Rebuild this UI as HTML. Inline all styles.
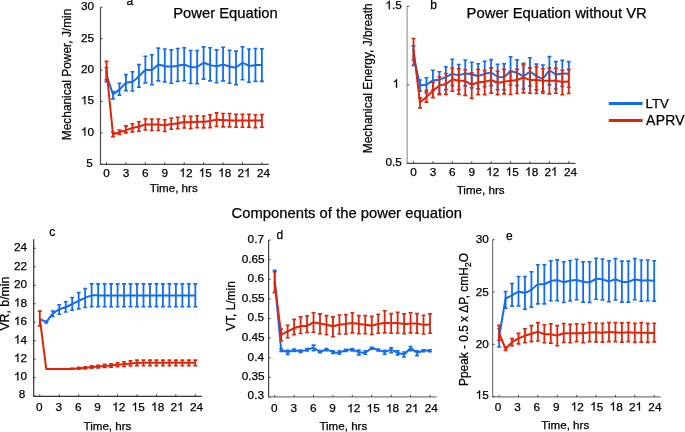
<!DOCTYPE html>
<html><head><meta charset="utf-8"><style>
html,body{margin:0;padding:0;background:#fff;}
body{width:685px;height:432px;overflow:hidden;}
svg{display:block;}
text{font-family:"Liberation Sans",sans-serif;fill:#000;stroke:#000;stroke-width:0.25px;}
svg{will-change:transform;}

.t{font-size:11.8px;}
.g1{fill:#000;stroke:#000;stroke-width:0.25px;}
.ti{font-size:14.8px;}
.lt{font-size:12px;}
.at{font-size:11.6px;}
.ay{font-size:11.9px;}
.lg{font-size:13.2px;}
</style></head><body>
<div class="wrap"><svg width="685" height="432" viewBox="0 0 685 432">
<rect width="685" height="432" fill="#fff"/>
<path d="M100.5,7.2 V164.3" stroke="#4a4a4a" stroke-width="1.2" fill="none"/>
<path d="M99.9,164.3 H268.8" stroke="#4a4a4a" stroke-width="1.2" fill="none"/>
<path d="M106.5,164.3 v-2 M125.92,164.3 v-2 M145.35,164.3 v-2 M164.78,164.3 v-2 M184.2,164.3 v-2 M203.62,164.3 v-2 M223.05,164.3 v-2 M242.47,164.3 v-2 M261.9,164.3 v-2 M100.5,7.2 h2 M100.5,38.62 h2 M100.5,70.04 h2 M100.5,101.46 h2 M100.5,132.88 h2 M100.5,164.3 h2" stroke="#444" stroke-width="1" fill="none"/>
<text x="106.5" y="176.8" text-anchor="middle" class="t">0</text>
<text x="125.92" y="176.8" text-anchor="middle" class="t">3</text>
<text x="145.35" y="176.8" text-anchor="middle" class="t">6</text>
<text x="164.78" y="176.8" text-anchor="middle" class="t">9</text>
<path d="M183.74,176.8 L182.7,176.8 L182.7,170.19 C182.11,170.72 181.34,171.16 180.55,171.51 L180.55,170.52 C181.34,170.13 181.99,169.66 182.43,169.19 C182.78,168.8 182.97,168.54 183.07,168.35 L183.74,168.35 Z" class="g1"/><text x="185.9" y="176.8" class="t">2</text>
<path d="M203.16,176.8 L202.13,176.8 L202.13,170.19 C201.54,170.72 200.77,171.16 199.98,171.51 L199.98,170.52 C200.77,170.13 201.42,169.66 201.85,169.19 C202.21,168.8 202.4,168.54 202.49,168.35 L203.16,168.35 Z" class="g1"/><text x="205.32" y="176.8" class="t">5</text>
<path d="M222.59,176.8 L221.55,176.8 L221.55,170.19 C220.96,170.72 220.19,171.16 219.4,171.51 L219.4,170.52 C220.19,170.13 220.84,169.66 221.28,169.19 C221.63,168.8 221.82,168.54 221.92,168.35 L222.59,168.35 Z" class="g1"/><text x="224.75" y="176.8" class="t">8</text>
<text x="237.61" y="176.8" class="t">2</text><path d="M248.58,176.8 L247.54,176.8 L247.54,170.19 C246.95,170.72 246.18,171.16 245.39,171.51 L245.39,170.52 C246.18,170.13 246.83,169.66 247.27,169.19 C247.62,168.8 247.81,168.54 247.9,168.35 L248.58,168.35 Z" class="g1"/>
<text x="263.6" y="176.8" text-anchor="middle" class="t">24</text>
<text x="94.1" y="10.1" text-anchor="end" class="t">30</text>
<text x="94.1" y="41.52" text-anchor="end" class="t">25</text>
<text x="94.1" y="72.94" text-anchor="end" class="t">20</text>
<path d="M85.38,104.36 L84.34,104.36 L84.34,97.75 C83.75,98.28 82.98,98.72 82.19,99.07 L82.19,98.08 C82.98,97.69 83.63,97.22 84.07,96.75 C84.42,96.36 84.61,96.1 84.7,95.91 L85.38,95.91 Z" class="g1"/><text x="87.54" y="104.36" class="t">5</text>
<path d="M85.38,135.78 L84.34,135.78 L84.34,129.17 C83.75,129.7 82.98,130.14 82.19,130.49 L82.19,129.5 C82.98,129.11 83.63,128.64 84.07,128.17 C84.42,127.78 84.61,127.52 84.7,127.33 L85.38,127.33 Z" class="g1"/><text x="87.54" y="135.78" class="t">0</text>
<text x="92.7" y="166.6" text-anchor="end" class="t">5</text>
<path d="M106.5,67.8 V82 M112.97,91.5 V98.9 M119.45,83.3 V95.1 M125.92,74.6 V90.6 M132.4,71.8 V91 M138.88,64.6 V87.2 M145.35,56.3 V82.9 M151.82,54.7 V84.8 M158.3,48.1 V80.9 M164.78,49 V82 M171.25,49.9 V83.2 M177.72,48.5 V81.4 M184.2,47.8 V80.8 M190.68,50.5 V83.5 M197.15,50.5 V83.7 M203.62,46.9 V79.1 M210.1,47.8 V80.9 M216.57,49.9 V82.7 M223.05,47.3 V80.9 M229.52,50.2 V83.2 M236,51.1 V84.6 M242.47,46.7 V79.7 M248.95,49 V82.3 M255.42,48.5 V81.4 M261.9,48.7 V81.4" stroke="#126cf2" stroke-width="1.8" fill="none"/>
<path d="M104.55,67.8 h3.9 M104.55,82 h3.9 M111.02,91.5 h3.9 M111.02,98.9 h3.9 M117.5,83.3 h3.9 M117.5,95.1 h3.9 M123.97,74.6 h3.9 M123.97,90.6 h3.9 M130.45,71.8 h3.9 M130.45,91 h3.9 M136.93,64.6 h3.9 M136.93,87.2 h3.9 M143.4,56.3 h3.9 M143.4,82.9 h3.9 M149.88,54.7 h3.9 M149.88,84.8 h3.9 M156.35,48.1 h3.9 M156.35,80.9 h3.9 M162.83,49 h3.9 M162.83,82 h3.9 M169.3,49.9 h3.9 M169.3,83.2 h3.9 M175.78,48.5 h3.9 M175.78,81.4 h3.9 M182.25,47.8 h3.9 M182.25,80.8 h3.9 M188.73,50.5 h3.9 M188.73,83.5 h3.9 M195.2,50.5 h3.9 M195.2,83.7 h3.9 M201.68,46.9 h3.9 M201.68,79.1 h3.9 M208.15,47.8 h3.9 M208.15,80.9 h3.9 M214.62,49.9 h3.9 M214.62,82.7 h3.9 M221.1,47.3 h3.9 M221.1,80.9 h3.9 M227.57,50.2 h3.9 M227.57,83.2 h3.9 M234.05,51.1 h3.9 M234.05,84.6 h3.9 M240.53,46.7 h3.9 M240.53,79.7 h3.9 M247,49 h3.9 M247,82.3 h3.9 M253.47,48.5 h3.9 M253.47,81.4 h3.9 M259.95,48.7 h3.9 M259.95,81.4 h3.9" stroke="#126cf2" stroke-width="1.6" fill="none"/>
<path d="M106.5,75 L112.97,94.4 C113.84,93.76 117.72,91.12 119.45,89.6 C121.18,88.08 124.2,84.05 125.92,83 C127.65,81.95 130.67,82.58 132.4,81.7 C134.13,80.82 137.15,77.95 138.88,76.4 C140.6,74.85 143.62,70.97 145.35,70.1 C147.08,69.23 150.1,70.61 151.82,69.9 C153.55,69.19 156.57,65.29 158.3,64.8 C160.03,64.31 163.05,65.97 164.78,66.2 C166.5,66.43 169.52,66.57 171.25,66.5 C172.98,66.43 176,65.93 177.72,65.7 C179.45,65.47 182.47,64.64 184.2,64.8 C185.93,64.96 188.95,66.62 190.68,66.9 C192.4,67.18 195.42,67.42 197.15,66.9 C198.88,66.38 201.9,63.24 203.62,63 C205.35,62.76 208.37,64.67 210.1,65.1 C211.83,65.53 214.85,66.24 216.57,66.2 C218.3,66.16 221.32,64.76 223.05,64.8 C224.78,64.84 227.8,66.15 229.52,66.5 C231.25,66.85 234.27,67.87 236,67.4 C237.73,66.93 240.75,63.23 242.47,63 C244.2,62.77 247.22,65.42 248.95,65.7 C250.68,65.98 253.7,65.18 255.42,65.1 C257.15,65.02 261.04,65.1 261.9,65.1" stroke="#126cf2" stroke-width="2.0" fill="none" stroke-linejoin="round"/>
<path d="M106.5,61.4 V79.9 M112.97,132.2 V136.8 M119.45,130 V134.4 M125.92,125.9 V132.9 M132.4,123.7 V131.9 M138.88,121.7 V131.3 M145.35,118.7 V130 M151.82,119 V130.5 M158.3,119 V130.5 M164.78,119.7 V131.5 M171.25,118 V129.2 M177.72,117.3 V128.6 M184.2,116 V128 M190.68,116.4 V128.6 M197.15,115.8 V127.6 M203.62,116 V127.9 M210.1,114.7 V127.6 M216.57,112.9 V126.5 M223.05,113.5 V126.9 M229.52,113.5 V126.9 M236,114.2 V127.3 M242.47,114.2 V127.3 M248.95,114.2 V127.3 M255.42,114.7 V127.6 M261.9,114.5 V127.3" stroke="#e0240a" stroke-width="1.8" fill="none"/>
<path d="M104.55,61.4 h3.9 M104.55,79.9 h3.9 M111.02,132.2 h3.9 M111.02,136.8 h3.9 M117.5,130 h3.9 M117.5,134.4 h3.9 M123.97,125.9 h3.9 M123.97,132.9 h3.9 M130.45,123.7 h3.9 M130.45,131.9 h3.9 M136.93,121.7 h3.9 M136.93,131.3 h3.9 M143.4,118.7 h3.9 M143.4,130 h3.9 M149.88,119 h3.9 M149.88,130.5 h3.9 M156.35,119 h3.9 M156.35,130.5 h3.9 M162.83,119.7 h3.9 M162.83,131.5 h3.9 M169.3,118 h3.9 M169.3,129.2 h3.9 M175.78,117.3 h3.9 M175.78,128.6 h3.9 M182.25,116 h3.9 M182.25,128 h3.9 M188.73,116.4 h3.9 M188.73,128.6 h3.9 M195.2,115.8 h3.9 M195.2,127.6 h3.9 M201.68,116 h3.9 M201.68,127.9 h3.9 M208.15,114.7 h3.9 M208.15,127.6 h3.9 M214.62,112.9 h3.9 M214.62,126.5 h3.9 M221.1,113.5 h3.9 M221.1,126.9 h3.9 M227.57,113.5 h3.9 M227.57,126.9 h3.9 M234.05,114.2 h3.9 M234.05,127.3 h3.9 M240.53,114.2 h3.9 M240.53,127.3 h3.9 M247,114.2 h3.9 M247,127.3 h3.9 M253.47,114.7 h3.9 M253.47,127.6 h3.9 M259.95,114.5 h3.9 M259.95,127.3 h3.9" stroke="#e0240a" stroke-width="1.6" fill="none"/>
<path d="M106.5,70 L112.97,134.4 C113.84,134.11 117.72,132.76 119.45,132.2 C121.18,131.64 124.2,130.76 125.92,130.2 C127.65,129.64 130.67,128.47 132.4,128 C134.13,127.53 137.15,127.15 138.88,126.7 C140.6,126.25 143.62,124.88 145.35,124.6 C147.08,124.32 150.1,124.6 151.82,124.6 C153.55,124.6 156.57,124.52 158.3,124.6 C160.03,124.68 163.05,125.29 164.78,125.2 C166.5,125.11 169.52,124.14 171.25,123.9 C172.98,123.66 176,123.65 177.72,123.4 C179.45,123.15 182.47,122.15 184.2,122 C185.93,121.85 188.95,122.34 190.68,122.3 C192.4,122.26 195.42,121.78 197.15,121.7 C198.88,121.62 201.9,121.79 203.62,121.7 C205.35,121.61 208.37,121.27 210.1,121 C211.83,120.73 214.85,119.82 216.57,119.7 C218.3,119.58 221.32,120.01 223.05,120.1 C224.78,120.19 227.8,120.33 229.52,120.4 C231.25,120.47 234.27,120.57 236,120.6 C237.73,120.63 240.75,120.6 242.47,120.6 C244.2,120.6 247.22,120.6 248.95,120.6 C250.68,120.6 253.7,120.6 255.42,120.6 C257.15,120.6 261.04,120.6 261.9,120.6" stroke="#e0240a" stroke-width="2.0" fill="none" stroke-linejoin="round"/>
<path d="M407.1,6.3 V163.3" stroke="#999" stroke-width="1.2" fill="none"/>
<path d="M406.5,163.3 H575.5" stroke="#4a4a4a" stroke-width="1.2" fill="none"/>
<path d="M413.5,163.3 v-2 M432.91,163.3 v-2 M452.32,163.3 v-2 M471.73,163.3 v-2 M491.14,163.3 v-2 M510.55,163.3 v-2 M529.96,163.3 v-2 M549.37,163.3 v-2 M568.78,163.3 v-2 M407.1,6.3 h2 M407.1,84.75 h2 M407.1,163.3 h2" stroke="#444" stroke-width="1" fill="none"/>
<text x="413.5" y="175.7" text-anchor="middle" class="t">0</text>
<text x="432.91" y="175.7" text-anchor="middle" class="t">3</text>
<text x="452.32" y="175.7" text-anchor="middle" class="t">6</text>
<text x="471.73" y="175.7" text-anchor="middle" class="t">9</text>
<path d="M490.68,175.7 L489.64,175.7 L489.64,169.09 C489.05,169.62 488.28,170.06 487.49,170.41 L487.49,169.42 C488.28,169.03 488.93,168.56 489.37,168.09 C489.72,167.7 489.91,167.44 490.01,167.25 L490.68,167.25 Z" class="g1"/><text x="492.84" y="175.7" class="t">2</text>
<path d="M510.09,175.7 L509.05,175.7 L509.05,169.09 C508.46,169.62 507.69,170.06 506.9,170.41 L506.9,169.42 C507.69,169.03 508.34,168.56 508.78,168.09 C509.13,167.7 509.32,167.44 509.42,167.25 L510.09,167.25 Z" class="g1"/><text x="512.25" y="175.7" class="t">5</text>
<path d="M529.5,175.7 L528.46,175.7 L528.46,169.09 C527.87,169.62 527.1,170.06 526.31,170.41 L526.31,169.42 C527.1,169.03 527.75,168.56 528.19,168.09 C528.54,167.7 528.73,167.44 528.83,167.25 L529.5,167.25 Z" class="g1"/><text x="531.66" y="175.7" class="t">8</text>
<text x="544.51" y="175.7" class="t">2</text><path d="M555.47,175.7 L554.43,175.7 L554.43,169.09 C553.84,169.62 553.08,170.06 552.29,170.41 L552.29,169.42 C553.08,169.03 553.73,168.56 554.16,168.09 C554.52,167.7 554.7,167.44 554.8,167.25 L555.47,167.25 Z" class="g1"/>
<text x="570.48" y="175.7" text-anchor="middle" class="t">24</text>
<path d="M389.8,9.2 L388.76,9.2 L388.76,2.59 C388.17,3.12 387.4,3.56 386.61,3.91 L386.61,2.92 C387.4,2.53 388.05,2.06 388.49,1.59 C388.84,1.2 389.03,0.94 389.13,0.75 L389.8,0.75 Z" class="g1"/><text x="391.96" y="9.2" class="t">.</text><text x="395.24" y="9.2" class="t">5</text>
<path d="M397.04,87.65 L396,87.65 L396,81.04 C395.41,81.57 394.64,82.01 393.85,82.36 L393.85,81.37 C394.64,80.98 395.29,80.51 395.73,80.04 C396.08,79.65 396.27,79.39 396.37,79.2 L397.04,79.2 Z" class="g1"/>
<text x="401.8" y="165.6" text-anchor="end" class="t">0.5</text>
<path d="M413.5,45.9 V65.4 M419.97,80 V91.1 M426.44,77.8 V92.6 M432.91,70.2 V90.2 M439.38,71.7 V93.9 M445.85,66.7 V89.6 M452.32,59.3 V85.6 M458.79,64.5 V89.7 M465.26,60 V85.9 M471.73,62.3 V87.9 M478.2,63.8 V88.9 M484.67,61.2 V86.8 M491.14,59.6 V85.6 M497.61,64.2 V89.7 M504.08,63.8 V89.7 M510.55,56.7 V85 M517.02,59.8 V85.6 M523.49,63.4 V89 M529.96,57.8 V86 M536.43,64.1 V89.9 M542.9,65 V91.4 M549.37,56.6 V84.9 M555.84,61.6 V89 M562.31,60.4 V86.4 M568.78,61.6 V87.2" stroke="#126cf2" stroke-width="1.8" fill="none"/>
<path d="M411.55,45.9 h3.9 M411.55,65.4 h3.9 M418.02,80 h3.9 M418.02,91.1 h3.9 M424.49,77.8 h3.9 M424.49,92.6 h3.9 M430.96,70.2 h3.9 M430.96,90.2 h3.9 M437.43,71.7 h3.9 M437.43,93.9 h3.9 M443.9,66.7 h3.9 M443.9,89.6 h3.9 M450.37,59.3 h3.9 M450.37,85.6 h3.9 M456.84,64.5 h3.9 M456.84,89.7 h3.9 M463.31,60 h3.9 M463.31,85.9 h3.9 M469.78,62.3 h3.9 M469.78,87.9 h3.9 M476.25,63.8 h3.9 M476.25,88.9 h3.9 M482.72,61.2 h3.9 M482.72,86.8 h3.9 M489.19,59.6 h3.9 M489.19,85.6 h3.9 M495.66,64.2 h3.9 M495.66,89.7 h3.9 M502.13,63.8 h3.9 M502.13,89.7 h3.9 M508.6,56.7 h3.9 M508.6,85 h3.9 M515.07,59.8 h3.9 M515.07,85.6 h3.9 M521.54,63.4 h3.9 M521.54,89 h3.9 M528.01,57.8 h3.9 M528.01,86 h3.9 M534.48,64.1 h3.9 M534.48,89.9 h3.9 M540.95,65 h3.9 M540.95,91.4 h3.9 M547.42,56.6 h3.9 M547.42,84.9 h3.9 M553.89,61.6 h3.9 M553.89,89 h3.9 M560.36,60.4 h3.9 M560.36,86.4 h3.9 M566.83,61.6 h3.9 M566.83,87.2 h3.9" stroke="#126cf2" stroke-width="1.6" fill="none"/>
<path d="M413.5,55.5 L419.97,85.2 C420.83,85.12 424.71,85.24 426.44,84.6 C428.17,83.96 431.18,81.07 432.91,80.4 C434.64,79.73 437.65,80.03 439.38,79.6 C441.11,79.17 444.12,77.93 445.85,77.2 C447.58,76.47 450.59,74.38 452.32,74.1 C454.05,73.82 457.06,75.17 458.79,75.1 C460.52,75.03 463.53,73.71 465.26,73.6 C466.99,73.49 470,74.01 471.73,74.3 C473.46,74.59 476.47,75.85 478.2,75.8 C479.93,75.75 482.94,74.3 484.67,73.9 C486.4,73.5 489.41,72.44 491.14,72.8 C492.87,73.16 495.88,76.05 497.61,76.6 C499.34,77.15 502.35,77.58 504.08,76.9 C505.81,76.22 508.82,72.03 510.55,71.5 C512.28,70.97 515.29,72.31 517.02,72.9 C518.75,73.49 521.76,76.01 523.49,75.9 C525.22,75.79 528.23,72.1 529.96,72.1 C531.69,72.1 534.7,75.1 536.43,75.9 C538.16,76.7 541.17,78.77 542.9,78.1 C544.63,77.43 547.64,71.39 549.37,70.9 C551.1,70.41 554.11,74.04 555.84,74.4 C557.57,74.76 560.58,73.67 562.31,73.6 C564.04,73.53 567.92,73.86 568.78,73.9" stroke="#126cf2" stroke-width="2.0" fill="none" stroke-linejoin="round"/>
<path d="M413.5,38.5 V59.8 M419.97,97.9 V107.9 M426.44,90.5 V102.1 M432.91,82.4 V97.6 M439.38,76.7 V94.8 M445.85,73.5 V94.4 M452.32,68 V91.1 M458.79,68.8 V94.3 M465.26,69.8 V95.4 M471.73,72.8 V98.4 M478.2,69.4 V94.6 M484.67,70.6 V94.6 M491.14,67.9 V93.1 M497.61,71.3 V94.6 M504.08,69.4 V93.9 M510.55,71.3 V94.5 M517.02,69.4 V93.5 M523.49,64.6 V92.9 M529.96,67.9 V93.2 M536.43,66.8 V93.5 M542.9,68.8 V93.2 M549.37,67.9 V93.9 M555.84,68.3 V93.2 M562.31,70.3 V94.7 M568.78,69.4 V93.5" stroke="#e0240a" stroke-width="1.8" fill="none"/>
<path d="M411.55,38.5 h3.9 M411.55,59.8 h3.9 M418.02,97.9 h3.9 M418.02,107.9 h3.9 M424.49,90.5 h3.9 M424.49,102.1 h3.9 M430.96,82.4 h3.9 M430.96,97.6 h3.9 M437.43,76.7 h3.9 M437.43,94.8 h3.9 M443.9,73.5 h3.9 M443.9,94.4 h3.9 M450.37,68 h3.9 M450.37,91.1 h3.9 M456.84,68.8 h3.9 M456.84,94.3 h3.9 M463.31,69.8 h3.9 M463.31,95.4 h3.9 M469.78,72.8 h3.9 M469.78,98.4 h3.9 M476.25,69.4 h3.9 M476.25,94.6 h3.9 M482.72,70.6 h3.9 M482.72,94.6 h3.9 M489.19,67.9 h3.9 M489.19,93.1 h3.9 M495.66,71.3 h3.9 M495.66,94.6 h3.9 M502.13,69.4 h3.9 M502.13,93.9 h3.9 M508.6,71.3 h3.9 M508.6,94.5 h3.9 M515.07,69.4 h3.9 M515.07,93.5 h3.9 M521.54,64.6 h3.9 M521.54,92.9 h3.9 M528.01,67.9 h3.9 M528.01,93.2 h3.9 M534.48,66.8 h3.9 M534.48,93.5 h3.9 M540.95,68.8 h3.9 M540.95,93.2 h3.9 M547.42,67.9 h3.9 M547.42,93.9 h3.9 M553.89,68.3 h3.9 M553.89,93.2 h3.9 M560.36,70.3 h3.9 M560.36,94.7 h3.9 M566.83,69.4 h3.9 M566.83,93.5 h3.9" stroke="#e0240a" stroke-width="1.6" fill="none"/>
<path d="M413.5,49 L419.97,102.3 C420.83,101.58 424.71,98.39 426.44,96.9 C428.17,95.41 431.18,92.61 432.91,91.1 C434.64,89.59 437.65,86.55 439.38,85.6 C441.11,84.65 444.12,84.8 445.85,84 C447.58,83.2 450.59,80.03 452.32,79.6 C454.05,79.17 457.06,80.6 458.79,80.8 C460.52,81 463.53,80.62 465.26,81.1 C466.99,81.58 470,84.24 471.73,84.4 C473.46,84.56 476.47,82.65 478.2,82.3 C479.93,81.95 482.94,82.07 484.67,81.8 C486.4,81.53 489.41,80.19 491.14,80.3 C492.87,80.41 495.88,82.4 497.61,82.6 C499.34,82.8 502.35,82.05 504.08,81.8 C505.81,81.55 508.82,80.95 510.55,80.7 C512.28,80.45 515.29,80.29 517.02,79.9 C518.75,79.51 521.76,77.8 523.49,77.8 C525.22,77.8 528.23,79.62 529.96,79.9 C531.69,80.18 534.7,79.78 536.43,79.9 C538.16,80.02 541.17,80.68 542.9,80.8 C544.63,80.92 547.64,80.8 549.37,80.8 C551.1,80.8 554.11,80.65 555.84,80.8 C557.57,80.95 560.58,81.82 562.31,81.9 C564.04,81.98 567.92,81.47 568.78,81.4" stroke="#e0240a" stroke-width="2.0" fill="none" stroke-linejoin="round"/>
<path d="M33.7,239.3 V396.3" stroke="#333" stroke-width="1.2" fill="none"/>
<path d="M33.1,396.3 H201.8" stroke="#333" stroke-width="1.2" fill="none"/>
<path d="M39.8,396.3 v-2 M59.24,396.3 v-2 M78.68,396.3 v-2 M98.12,396.3 v-2 M117.56,396.3 v-2 M137,396.3 v-2 M156.44,396.3 v-2 M175.88,396.3 v-2 M195.32,396.3 v-2 M33.7,248.3 h2 M33.7,266.77 h2 M33.7,285.24 h2 M33.7,303.71 h2 M33.7,322.18 h2 M33.7,340.65 h2 M33.7,359.12 h2 M33.7,377.59 h2 M33.7,396.06 h2" stroke="#444" stroke-width="1" fill="none"/>
<text x="39.3" y="410.9" text-anchor="middle" class="t">0</text>
<text x="58.74" y="410.9" text-anchor="middle" class="t">3</text>
<text x="78.18" y="410.9" text-anchor="middle" class="t">6</text>
<text x="97.62" y="410.9" text-anchor="middle" class="t">9</text>
<path d="M116.6,410.9 L115.56,410.9 L115.56,404.29 C114.97,404.82 114.2,405.26 113.41,405.61 L113.41,404.62 C114.2,404.23 114.85,403.76 115.29,403.29 C115.64,402.9 115.83,402.64 115.93,402.45 L116.6,402.45 Z" class="g1"/><text x="118.76" y="410.9" class="t">2</text>
<path d="M136.04,410.9 L135,410.9 L135,404.29 C134.41,404.82 133.64,405.26 132.85,405.61 L132.85,404.62 C133.64,404.23 134.29,403.76 134.73,403.29 C135.08,402.9 135.27,402.64 135.37,402.45 L136.04,402.45 Z" class="g1"/><text x="138.2" y="410.9" class="t">5</text>
<path d="M155.48,410.9 L154.44,410.9 L154.44,404.29 C153.85,404.82 153.08,405.26 152.29,405.61 L152.29,404.62 C153.08,404.23 153.73,403.76 154.17,403.29 C154.52,402.9 154.71,402.64 154.81,402.45 L155.48,402.45 Z" class="g1"/><text x="157.64" y="410.9" class="t">8</text>
<text x="170.52" y="410.9" class="t">2</text><path d="M181.48,410.9 L180.44,410.9 L180.44,404.29 C179.85,404.82 179.09,405.26 178.3,405.61 L178.3,404.62 C179.09,404.23 179.73,403.76 180.17,403.29 C180.53,402.9 180.71,402.64 180.81,402.45 L181.48,402.45 Z" class="g1"/>
<text x="196.52" y="410.9" text-anchor="middle" class="t">24</text>
<text x="27.1" y="251.2" text-anchor="end" class="t">24</text>
<text x="27.1" y="269.67" text-anchor="end" class="t">22</text>
<text x="27.1" y="288.14" text-anchor="end" class="t">20</text>
<path d="M18.38,306.61 L17.34,306.61 L17.34,300 C16.75,300.53 15.98,300.97 15.19,301.32 L15.19,300.33 C15.98,299.94 16.63,299.47 17.07,299 C17.42,298.61 17.61,298.35 17.7,298.16 L18.38,298.16 Z" class="g1"/><text x="20.54" y="306.61" class="t">8</text>
<path d="M18.38,325.08 L17.34,325.08 L17.34,318.47 C16.75,319 15.98,319.44 15.19,319.79 L15.19,318.8 C15.98,318.41 16.63,317.94 17.07,317.47 C17.42,317.08 17.61,316.82 17.7,316.63 L18.38,316.63 Z" class="g1"/><text x="20.54" y="325.08" class="t">6</text>
<path d="M18.38,343.55 L17.34,343.55 L17.34,336.94 C16.75,337.47 15.98,337.91 15.19,338.26 L15.19,337.27 C15.98,336.88 16.63,336.41 17.07,335.94 C17.42,335.55 17.61,335.29 17.7,335.1 L18.38,335.1 Z" class="g1"/><text x="20.54" y="343.55" class="t">4</text>
<path d="M18.38,362.02 L17.34,362.02 L17.34,355.41 C16.75,355.94 15.98,356.38 15.19,356.73 L15.19,355.74 C15.98,355.35 16.63,354.88 17.07,354.41 C17.42,354.02 17.61,353.76 17.7,353.57 L18.38,353.57 Z" class="g1"/><text x="20.54" y="362.02" class="t">2</text>
<path d="M18.38,380.49 L17.34,380.49 L17.34,373.88 C16.75,374.41 15.98,374.85 15.19,375.2 L15.19,374.21 C15.98,373.82 16.63,373.35 17.07,372.88 C17.42,372.49 17.61,372.23 17.7,372.04 L18.38,372.04 Z" class="g1"/><text x="20.54" y="380.49" class="t">0</text>
<text x="25.3" y="398.36" text-anchor="end" class="t">8</text>
<path d="M46.28,321.2 V323 M52.76,311 V316.5 M59.24,304.7 V314.2 M65.72,301.7 V312 M72.2,297.5 V310.3 M78.68,292.6 V308.9 M85.16,288.5 V307.5 M91.64,283.9 V306.8 M98.12,283.9 V306.8 M104.6,283.9 V306.8 M111.08,283.9 V306.8 M117.56,283.9 V306.8 M124.04,283.9 V306.8 M130.52,283.9 V306.8 M137,283.9 V306.8 M143.48,283.9 V306.8 M149.96,283.9 V306.8 M156.44,283.9 V306.8 M162.92,283.9 V306.8 M169.4,283.9 V306.8 M175.88,283.9 V306.8 M182.36,283.9 V306.8 M188.84,283.9 V306.8 M195.32,283.9 V306.8" stroke="#126cf2" stroke-width="1.8" fill="none"/>
<path d="M44.33,321.2 h3.9 M44.33,323 h3.9 M50.81,311 h3.9 M50.81,316.5 h3.9 M57.29,304.7 h3.9 M57.29,314.2 h3.9 M63.77,301.7 h3.9 M63.77,312 h3.9 M70.25,297.5 h3.9 M70.25,310.3 h3.9 M76.73,292.6 h3.9 M76.73,308.9 h3.9 M83.21,288.5 h3.9 M83.21,307.5 h3.9 M89.69,283.9 h3.9 M89.69,306.8 h3.9 M96.17,283.9 h3.9 M96.17,306.8 h3.9 M102.65,283.9 h3.9 M102.65,306.8 h3.9 M109.13,283.9 h3.9 M109.13,306.8 h3.9 M115.61,283.9 h3.9 M115.61,306.8 h3.9 M122.09,283.9 h3.9 M122.09,306.8 h3.9 M128.57,283.9 h3.9 M128.57,306.8 h3.9 M135.05,283.9 h3.9 M135.05,306.8 h3.9 M141.53,283.9 h3.9 M141.53,306.8 h3.9 M148.01,283.9 h3.9 M148.01,306.8 h3.9 M154.49,283.9 h3.9 M154.49,306.8 h3.9 M160.97,283.9 h3.9 M160.97,306.8 h3.9 M167.45,283.9 h3.9 M167.45,306.8 h3.9 M173.93,283.9 h3.9 M173.93,306.8 h3.9 M180.41,283.9 h3.9 M180.41,306.8 h3.9 M186.89,283.9 h3.9 M186.89,306.8 h3.9 M193.37,283.9 h3.9 M193.37,306.8 h3.9" stroke="#126cf2" stroke-width="1.6" fill="none"/>
<path d="M39.8,318.9 L46.28,322.1 C47.14,320.99 51.03,315.46 52.76,313.75 C54.49,312.04 57.51,310.17 59.24,309.3 C60.97,308.43 63.99,307.91 65.72,307.2 C67.45,306.49 70.47,304.85 72.2,304 C73.93,303.15 76.95,301.63 78.68,300.8 C80.41,299.97 83.43,298.52 85.16,297.8 C86.89,297.08 89.91,295.72 91.64,295.4 C93.37,295.08 96.39,295.4 98.12,295.4 C99.85,295.4 102.87,295.4 104.6,295.4 C106.33,295.4 109.35,295.4 111.08,295.4 C112.81,295.4 115.83,295.4 117.56,295.4 C119.29,295.4 122.31,295.4 124.04,295.4 C125.77,295.4 128.79,295.4 130.52,295.4 C132.25,295.4 135.27,295.4 137,295.4 C138.73,295.4 141.75,295.4 143.48,295.4 C145.21,295.4 148.23,295.4 149.96,295.4 C151.69,295.4 154.71,295.4 156.44,295.4 C158.17,295.4 161.19,295.4 162.92,295.4 C164.65,295.4 167.67,295.4 169.4,295.4 C171.13,295.4 174.15,295.4 175.88,295.4 C177.61,295.4 180.63,295.4 182.36,295.4 C184.09,295.4 187.11,295.4 188.84,295.4 C190.57,295.4 194.46,295.4 195.32,295.4" stroke="#126cf2" stroke-width="2.0" fill="none" stroke-linejoin="round"/>
<path d="M39.8,311.1 V325.9 M72.2,368.3 V369.3 M78.68,367.3 V369.3 M85.16,366.8 V368.9 M91.64,365.9 V368.3 M98.12,365.3 V367.9 M104.6,364.4 V367.5 M111.08,363.8 V367.1 M117.56,362.8 V366.8 M124.04,361.7 V366.5 M130.52,360.9 V366 M137,360.1 V365.7 M143.48,360.1 V365.7 M149.96,360.1 V365.7 M156.44,360.1 V365.7 M162.92,360.1 V365.7 M169.4,360.1 V365.7 M175.88,360.1 V365.7 M182.36,360.1 V365.7 M188.84,360.1 V365.7 M195.32,360.1 V365.7" stroke="#e0240a" stroke-width="1.8" fill="none"/>
<path d="M37.85,311.1 h3.9 M37.85,325.9 h3.9 M70.25,368.3 h3.9 M70.25,369.3 h3.9 M76.73,367.3 h3.9 M76.73,369.3 h3.9 M83.21,366.8 h3.9 M83.21,368.9 h3.9 M89.69,365.9 h3.9 M89.69,368.3 h3.9 M96.17,365.3 h3.9 M96.17,367.9 h3.9 M102.65,364.4 h3.9 M102.65,367.5 h3.9 M109.13,363.8 h3.9 M109.13,367.1 h3.9 M115.61,362.8 h3.9 M115.61,366.8 h3.9 M122.09,361.7 h3.9 M122.09,366.5 h3.9 M128.57,360.9 h3.9 M128.57,366 h3.9 M135.05,360.1 h3.9 M135.05,365.7 h3.9 M141.53,360.1 h3.9 M141.53,365.7 h3.9 M148.01,360.1 h3.9 M148.01,365.7 h3.9 M154.49,360.1 h3.9 M154.49,365.7 h3.9 M160.97,360.1 h3.9 M160.97,365.7 h3.9 M167.45,360.1 h3.9 M167.45,365.7 h3.9 M173.93,360.1 h3.9 M173.93,365.7 h3.9 M180.41,360.1 h3.9 M180.41,365.7 h3.9 M186.89,360.1 h3.9 M186.89,365.7 h3.9 M193.37,360.1 h3.9 M193.37,365.7 h3.9" stroke="#e0240a" stroke-width="1.6" fill="none"/>
<path d="M39.8,318.5 L46.28,369.1 C47.14,369.1 51.03,369.1 52.76,369.1 C54.49,369.1 57.51,369.1 59.24,369.1 C60.97,369.1 63.99,369.14 65.72,369.1 C67.45,369.06 70.47,368.91 72.2,368.8 C73.93,368.69 76.95,368.43 78.68,368.3 C80.41,368.17 83.43,367.96 85.16,367.8 C86.89,367.64 89.91,367.26 91.64,367.1 C93.37,366.94 96.39,366.75 98.12,366.6 C99.85,366.45 102.87,366.16 104.6,366 C106.33,365.84 109.35,365.56 111.08,365.4 C112.81,365.24 115.83,364.97 117.56,364.8 C119.29,364.63 122.31,364.29 124.04,364.1 C125.77,363.91 128.79,363.55 130.52,363.4 C132.25,363.25 135.27,363.09 137,363 C138.73,362.91 141.75,362.74 143.48,362.7 C145.21,362.66 148.23,362.7 149.96,362.7 C151.69,362.7 154.71,362.7 156.44,362.7 C158.17,362.7 161.19,362.7 162.92,362.7 C164.65,362.7 167.67,362.7 169.4,362.7 C171.13,362.7 174.15,362.7 175.88,362.7 C177.61,362.7 180.63,362.7 182.36,362.7 C184.09,362.7 187.11,362.7 188.84,362.7 C190.57,362.7 194.46,362.7 195.32,362.7" stroke="#e0240a" stroke-width="2.0" fill="none" stroke-linejoin="round"/>
<path d="M268.6,240.1 V396.9" stroke="#444" stroke-width="1.2" fill="none"/>
<path d="M268,396.9 H436.6" stroke="#777" stroke-width="1.2" fill="none"/>
<path d="M274.7,396.9 v-2 M294.11,396.9 v-2 M313.52,396.9 v-2 M332.93,396.9 v-2 M352.34,396.9 v-2 M371.75,396.9 v-2 M391.16,396.9 v-2 M410.57,396.9 v-2 M429.98,396.9 v-2 M268.6,240.1 h2 M268.6,259.7 h2 M268.6,279.3 h2 M268.6,298.9 h2 M268.6,318.5 h2 M268.6,338.1 h2 M268.6,357.7 h2 M268.6,377.3 h2 M268.6,396.9 h2" stroke="#444" stroke-width="1" fill="none"/>
<text x="274.4" y="412.4" text-anchor="middle" class="t">0</text>
<text x="293.81" y="412.4" text-anchor="middle" class="t">3</text>
<text x="313.22" y="412.4" text-anchor="middle" class="t">6</text>
<text x="332.63" y="412.4" text-anchor="middle" class="t">9</text>
<path d="M351.58,412.4 L350.54,412.4 L350.54,405.79 C349.95,406.32 349.18,406.76 348.39,407.11 L348.39,406.12 C349.18,405.73 349.83,405.26 350.27,404.79 C350.62,404.4 350.81,404.14 350.91,403.95 L351.58,403.95 Z" class="g1"/><text x="353.74" y="412.4" class="t">2</text>
<path d="M370.99,412.4 L369.95,412.4 L369.95,405.79 C369.36,406.32 368.59,406.76 367.8,407.11 L367.8,406.12 C368.59,405.73 369.24,405.26 369.68,404.79 C370.03,404.4 370.22,404.14 370.32,403.95 L370.99,403.95 Z" class="g1"/><text x="373.15" y="412.4" class="t">5</text>
<path d="M390.4,412.4 L389.36,412.4 L389.36,405.79 C388.77,406.32 388,406.76 387.21,407.11 L387.21,406.12 C388,405.73 388.65,405.26 389.09,404.79 C389.44,404.4 389.63,404.14 389.73,403.95 L390.4,403.95 Z" class="g1"/><text x="392.56" y="412.4" class="t">8</text>
<text x="405.41" y="412.4" class="t">2</text><path d="M416.37,412.4 L415.33,412.4 L415.33,405.79 C414.74,406.32 413.98,406.76 413.19,407.11 L413.19,406.12 C413.98,405.73 414.62,405.26 415.06,404.79 C415.42,404.4 415.6,404.14 415.7,403.95 L416.37,403.95 Z" class="g1"/>
<text x="431.38" y="412.4" text-anchor="middle" class="t">24</text>
<text x="264" y="243" text-anchor="end" class="t">0.7</text>
<text x="264.7" y="262.6" text-anchor="end" class="t">0.65</text>
<text x="264" y="282.2" text-anchor="end" class="t">0.6</text>
<text x="264.7" y="301.8" text-anchor="end" class="t">0.55</text>
<text x="264" y="321.4" text-anchor="end" class="t">0.5</text>
<text x="264.7" y="341" text-anchor="end" class="t">0.45</text>
<text x="264" y="360.6" text-anchor="end" class="t">0.4</text>
<text x="264.7" y="380.2" text-anchor="end" class="t">0.35</text>
<text x="264" y="399.2" text-anchor="end" class="t">0.3</text>
<path d="M274.7,270.2 V292.3 M281.17,349 V351.5 M287.64,350.2 V354.4 M294.11,349 V351.5 M300.58,350 V352.5 M307.05,348.5 V351 M313.52,345.1 V350.7 M319.99,350.5 V352.8 M326.46,348.5 V350.8 M332.93,350.7 V353.5 M339.4,350.7 V354.2 M345.87,349.2 V351.5 M352.34,348.6 V350.9 M358.81,350 V354.9 M365.28,350.7 V354.2 M371.75,347.2 V349.3 M378.22,349 V351 M384.69,350.3 V354.2 M391.16,347.9 V352.8 M397.63,350.7 V354.9 M404.1,352 V357 M410.57,346.5 V350.7 M417.04,350.7 V355.6 M423.51,349.7 V351.7 M429.98,349.7 V351.7" stroke="#126cf2" stroke-width="1.8" fill="none"/>
<path d="M272.75,270.2 h3.9 M272.75,292.3 h3.9 M279.22,349 h3.9 M279.22,351.5 h3.9 M285.69,350.2 h3.9 M285.69,354.4 h3.9 M292.16,349 h3.9 M292.16,351.5 h3.9 M298.63,350 h3.9 M298.63,352.5 h3.9 M305.1,348.5 h3.9 M305.1,351 h3.9 M311.57,345.1 h3.9 M311.57,350.7 h3.9 M318.04,350.5 h3.9 M318.04,352.8 h3.9 M324.51,348.5 h3.9 M324.51,350.8 h3.9 M330.98,350.7 h3.9 M330.98,353.5 h3.9 M337.45,350.7 h3.9 M337.45,354.2 h3.9 M343.92,349.2 h3.9 M343.92,351.5 h3.9 M350.39,348.6 h3.9 M350.39,350.9 h3.9 M356.86,350 h3.9 M356.86,354.9 h3.9 M363.33,350.7 h3.9 M363.33,354.2 h3.9 M369.8,347.2 h3.9 M369.8,349.3 h3.9 M376.27,349 h3.9 M376.27,351 h3.9 M382.74,350.3 h3.9 M382.74,354.2 h3.9 M389.21,347.9 h3.9 M389.21,352.8 h3.9 M395.68,350.7 h3.9 M395.68,354.9 h3.9 M402.15,352 h3.9 M402.15,357 h3.9 M408.62,346.5 h3.9 M408.62,350.7 h3.9 M415.09,350.7 h3.9 M415.09,355.6 h3.9 M421.56,349.7 h3.9 M421.56,351.7 h3.9 M428.03,349.7 h3.9 M428.03,351.7 h3.9" stroke="#126cf2" stroke-width="1.6" fill="none"/>
<path d="M274.7,281 L281.17,350.2 C282.03,350.43 285.91,351.9 287.64,351.9 C289.37,351.9 292.38,350.29 294.11,350.2 C295.84,350.11 298.85,351.3 300.58,351.25 C302.31,351.2 305.32,350.25 307.05,349.8 C308.78,349.35 311.79,347.67 313.52,347.9 C315.25,348.13 318.26,351.27 319.99,351.5 C321.72,351.73 324.73,349.52 326.46,349.6 C328.19,349.68 331.2,351.71 332.93,352.1 C334.66,352.49 337.67,352.74 339.4,352.5 C341.13,352.26 344.14,350.67 345.87,350.3 C347.6,349.93 350.61,349.46 352.34,349.7 C354.07,349.94 357.08,351.73 358.81,352.1 C360.54,352.47 363.55,353.01 365.28,352.5 C367.01,351.99 370.02,348.63 371.75,348.3 C373.48,347.97 376.49,349.53 378.22,350 C379.95,350.47 382.96,351.8 384.69,351.8 C386.42,351.8 389.43,349.91 391.16,350 C392.89,350.09 395.9,351.94 397.63,352.5 C399.36,353.06 402.37,354.72 404.1,354.2 C405.83,353.68 408.84,348.83 410.57,348.6 C412.3,348.37 415.31,352.22 417.04,352.5 C418.77,352.78 421.78,350.94 423.51,350.7 C425.24,350.46 429.12,350.7 429.98,350.7" stroke="#126cf2" stroke-width="2.0" fill="none" stroke-linejoin="round"/>
<path d="M274.7,271.8 V292.8 M281.17,329 V340.8 M287.64,325.2 V337.7 M294.11,319.4 V334.6 M300.58,316.9 V333.5 M307.05,315.8 V332.5 M313.52,312.8 V332.2 M319.99,313.9 V333.75 M326.46,315.6 V334.7 M332.93,316.9 V336.8 M339.4,315 V334 M345.87,314.6 V334 M352.34,312.8 V332.9 M358.81,315.6 V333.75 M365.28,315.6 V333.75 M371.75,316.4 V334.5 M378.22,314.3 V333.3 M384.69,310.8 V332.9 M391.16,313.6 V333.3 M397.63,312.2 V333.3 M404.1,313.9 V333.75 M410.57,312.8 V332.9 M417.04,313.6 V333.3 M423.51,315.3 V334 M429.98,313.9 V333.3" stroke="#e0240a" stroke-width="1.8" fill="none"/>
<path d="M272.75,271.8 h3.9 M272.75,292.8 h3.9 M279.22,329 h3.9 M279.22,340.8 h3.9 M285.69,325.2 h3.9 M285.69,337.7 h3.9 M292.16,319.4 h3.9 M292.16,334.6 h3.9 M298.63,316.9 h3.9 M298.63,333.5 h3.9 M305.1,315.8 h3.9 M305.1,332.5 h3.9 M311.57,312.8 h3.9 M311.57,332.2 h3.9 M318.04,313.9 h3.9 M318.04,333.75 h3.9 M324.51,315.6 h3.9 M324.51,334.7 h3.9 M330.98,316.9 h3.9 M330.98,336.8 h3.9 M337.45,315 h3.9 M337.45,334 h3.9 M343.92,314.6 h3.9 M343.92,334 h3.9 M350.39,312.8 h3.9 M350.39,332.9 h3.9 M356.86,315.6 h3.9 M356.86,333.75 h3.9 M363.33,315.6 h3.9 M363.33,333.75 h3.9 M369.8,316.4 h3.9 M369.8,334.5 h3.9 M376.27,314.3 h3.9 M376.27,333.3 h3.9 M382.74,310.8 h3.9 M382.74,332.9 h3.9 M389.21,313.6 h3.9 M389.21,333.3 h3.9 M395.68,312.2 h3.9 M395.68,333.3 h3.9 M402.15,313.9 h3.9 M402.15,333.75 h3.9 M408.62,312.8 h3.9 M408.62,332.9 h3.9 M415.09,313.6 h3.9 M415.09,333.3 h3.9 M421.56,315.3 h3.9 M421.56,334 h3.9 M428.03,313.9 h3.9 M428.03,333.3 h3.9" stroke="#e0240a" stroke-width="1.6" fill="none"/>
<path d="M274.7,282 L281.17,334.6 C282.03,334.19 285.91,332.34 287.64,331.5 C289.37,330.66 292.38,329 294.11,328.3 C295.84,327.6 298.85,326.58 300.58,326.25 C302.31,325.92 305.32,326.29 307.05,325.8 C308.78,325.31 311.79,322.89 313.52,322.6 C315.25,322.31 318.26,323.32 319.99,323.6 C321.72,323.88 324.73,324.37 326.46,324.7 C328.19,325.03 331.2,326.1 332.93,326.1 C334.66,326.1 337.67,324.99 339.4,324.7 C341.13,324.41 344.14,324.14 345.87,323.9 C347.6,323.66 350.61,322.9 352.34,322.9 C354.07,322.9 357.08,323.66 358.81,323.9 C360.54,324.14 363.55,324.49 365.28,324.7 C367.01,324.91 370.02,325.61 371.75,325.5 C373.48,325.39 376.49,324.25 378.22,323.9 C379.95,323.55 382.96,322.98 384.69,322.9 C386.42,322.82 389.43,323.3 391.16,323.3 C392.89,323.3 395.9,322.82 397.63,322.9 C399.36,322.98 402.37,323.81 404.1,323.9 C405.83,323.99 408.84,323.64 410.57,323.6 C412.3,323.56 415.31,323.45 417.04,323.6 C418.77,323.75 421.78,324.61 423.51,324.7 C425.24,324.79 429.12,324.35 429.98,324.3" stroke="#e0240a" stroke-width="2.0" fill="none" stroke-linejoin="round"/>
<path d="M492.6,239.7 V396.9" stroke="#777" stroke-width="1.2" fill="none"/>
<path d="M492,396.9 H660.8" stroke="#777" stroke-width="1.2" fill="none"/>
<path d="M499.1,396.9 v-2 M518.49,396.9 v-2 M537.88,396.9 v-2 M557.27,396.9 v-2 M576.66,396.9 v-2 M596.05,396.9 v-2 M615.43,396.9 v-2 M634.82,396.9 v-2 M654.21,396.9 v-2 M492.6,239.7 h2 M492.6,292 h2 M492.6,344.3 h2 M492.6,396.6 h2" stroke="#444" stroke-width="1" fill="none"/>
<text x="498.1" y="410.6" text-anchor="middle" class="t">0</text>
<text x="517.49" y="410.6" text-anchor="middle" class="t">3</text>
<text x="536.88" y="410.6" text-anchor="middle" class="t">6</text>
<text x="556.27" y="410.6" text-anchor="middle" class="t">9</text>
<path d="M575.19,410.6 L574.16,410.6 L574.16,403.99 C573.57,404.52 572.8,404.96 572.01,405.31 L572.01,404.32 C572.8,403.93 573.45,403.46 573.89,402.99 C574.24,402.6 574.43,402.34 574.52,402.15 L575.19,402.15 Z" class="g1"/><text x="577.36" y="410.6" class="t">2</text>
<path d="M594.58,410.6 L593.55,410.6 L593.55,403.99 C592.96,404.52 592.19,404.96 591.4,405.31 L591.4,404.32 C592.19,403.93 592.84,403.46 593.27,402.99 C593.63,402.6 593.82,402.34 593.91,402.15 L594.58,402.15 Z" class="g1"/><text x="596.75" y="410.6" class="t">5</text>
<path d="M613.97,410.6 L612.93,410.6 L612.93,403.99 C612.34,404.52 611.58,404.96 610.79,405.31 L610.79,404.32 C611.58,403.93 612.23,403.46 612.66,402.99 C613.02,402.6 613.21,402.34 613.3,402.15 L613.97,402.15 Z" class="g1"/><text x="616.13" y="410.6" class="t">8</text>
<text x="628.96" y="410.6" class="t">2</text><path d="M639.92,410.6 L638.89,410.6 L638.89,403.99 C638.3,404.52 637.53,404.96 636.74,405.31 L636.74,404.32 C637.53,403.93 638.18,403.46 638.61,402.99 C638.97,402.6 639.16,402.34 639.25,402.15 L639.92,402.15 Z" class="g1"/>
<text x="654.91" y="410.6" text-anchor="middle" class="t">24</text>
<text x="488.8" y="243.3" text-anchor="end" class="t">30</text>
<text x="488.8" y="295.6" text-anchor="end" class="t">25</text>
<text x="488.8" y="347.9" text-anchor="end" class="t">20</text>
<path d="M480.08,398.9 L479.04,398.9 L479.04,392.29 C478.45,392.82 477.68,393.26 476.89,393.61 L476.89,392.62 C477.68,392.23 478.33,391.76 478.77,391.29 C479.12,390.9 479.31,390.64 479.4,390.45 L480.08,390.45 Z" class="g1"/><text x="482.24" y="398.9" class="t">5</text>
<path d="M499.1,328.5 V347 M505.56,291.5 V308.1 M512.03,283.5 V306.1 M518.49,276.5 V306 M524.95,276.5 V309.2 M531.41,271.7 V307.1 M537.88,264.7 V303.9 M544.34,264.7 V303.9 M550.8,260.8 V300.8 M557.27,259.9 V300.6 M563.73,261.7 V302.5 M570.19,260.5 V301 M576.66,259.3 V299.7 M583.12,261.8 V302.1 M589.58,261.8 V302.5 M596.05,258.3 V299.3 M602.51,259 V300 M608.97,260.8 V301.7 M615.43,258.6 V300 M621.9,261.1 V302.1 M628.36,261.1 V302.1 M634.82,258.6 V299.7 M641.29,260 V301.1 M647.75,260 V300.7 M654.21,260.7 V301.1" stroke="#126cf2" stroke-width="1.8" fill="none"/>
<path d="M497.15,328.5 h3.9 M497.15,347 h3.9 M503.61,291.5 h3.9 M503.61,308.1 h3.9 M510.08,283.5 h3.9 M510.08,306.1 h3.9 M516.54,276.5 h3.9 M516.54,306 h3.9 M523,276.5 h3.9 M523,309.2 h3.9 M529.46,271.7 h3.9 M529.46,307.1 h3.9 M535.93,264.7 h3.9 M535.93,303.9 h3.9 M542.39,264.7 h3.9 M542.39,303.9 h3.9 M548.85,260.8 h3.9 M548.85,300.8 h3.9 M555.32,259.9 h3.9 M555.32,300.6 h3.9 M561.78,261.7 h3.9 M561.78,302.5 h3.9 M568.24,260.5 h3.9 M568.24,301 h3.9 M574.71,259.3 h3.9 M574.71,299.7 h3.9 M581.17,261.8 h3.9 M581.17,302.1 h3.9 M587.63,261.8 h3.9 M587.63,302.5 h3.9 M594.1,258.3 h3.9 M594.1,299.3 h3.9 M600.56,259 h3.9 M600.56,300 h3.9 M607.02,260.8 h3.9 M607.02,301.7 h3.9 M613.48,258.6 h3.9 M613.48,300 h3.9 M619.95,261.1 h3.9 M619.95,302.1 h3.9 M626.41,261.1 h3.9 M626.41,302.1 h3.9 M632.87,258.6 h3.9 M632.87,299.7 h3.9 M639.34,260 h3.9 M639.34,301.1 h3.9 M645.8,260 h3.9 M645.8,300.7 h3.9 M652.26,260.7 h3.9 M652.26,301.1 h3.9" stroke="#126cf2" stroke-width="1.6" fill="none"/>
<path d="M499.1,337 L505.56,298.5 C506.42,298.07 510.3,296.19 512.03,295.3 C513.75,294.41 516.77,292.13 518.49,291.8 C520.21,291.47 523.23,293.08 524.95,292.8 C526.68,292.52 529.69,290.82 531.41,289.7 C533.14,288.58 536.15,285.13 537.88,284.4 C539.6,283.67 542.62,284.64 544.34,284.2 C546.06,283.76 549.08,281.62 550.8,281.1 C552.53,280.58 555.54,280.17 557.27,280.3 C558.99,280.43 562.01,282.05 563.73,282.1 C565.45,282.15 568.47,280.98 570.19,280.7 C571.92,280.42 574.93,279.87 576.66,280 C578.38,280.13 581.4,281.41 583.12,281.7 C584.84,281.99 587.86,282.57 589.58,282.2 C591.31,281.83 594.32,279.27 596.05,278.9 C597.77,278.53 600.78,279.09 602.51,279.4 C604.23,279.71 607.25,281.25 608.97,281.25 C610.69,281.25 613.71,279.34 615.43,279.4 C617.16,279.46 620.17,281.39 621.9,281.7 C623.62,282.01 626.64,282.01 628.36,281.7 C630.08,281.39 633.1,279.55 634.82,279.4 C636.55,279.25 639.56,280.48 641.29,280.6 C643.01,280.72 646.03,280.27 647.75,280.3 C649.47,280.33 653.35,280.73 654.21,280.8" stroke="#126cf2" stroke-width="2.0" fill="none" stroke-linejoin="round"/>
<path d="M499.1,325.4 V340.2 M505.56,346.7 V350.5 M512.03,338.5 V345.7 M518.49,333.4 V343.9 M524.95,328.8 V342.8 M531.41,325.6 V341.6 M537.88,322.6 V341 M544.34,324.7 V342.8 M550.8,323.7 V343.1 M557.27,325.6 V345.7 M563.73,323.5 V342.4 M570.19,324.4 V342.8 M576.66,323.7 V341.6 M583.12,324.3 V342.8 M589.58,322.6 V341.6 M596.05,323.2 V341.9 M602.51,323.4 V342.1 M608.97,322.6 V341.6 M615.43,322.6 V341.6 M621.9,322.9 V342.1 M628.36,322.6 V341.6 M634.82,323.4 V342.4 M641.29,322.6 V342.1 M647.75,323.4 V342.4 M654.21,323.2 V341.9" stroke="#e0240a" stroke-width="1.8" fill="none"/>
<path d="M497.15,325.4 h3.9 M497.15,340.2 h3.9 M503.61,346.7 h3.9 M503.61,350.5 h3.9 M510.08,338.5 h3.9 M510.08,345.7 h3.9 M516.54,333.4 h3.9 M516.54,343.9 h3.9 M523,328.8 h3.9 M523,342.8 h3.9 M529.46,325.6 h3.9 M529.46,341.6 h3.9 M535.93,322.6 h3.9 M535.93,341 h3.9 M542.39,324.7 h3.9 M542.39,342.8 h3.9 M548.85,323.7 h3.9 M548.85,343.1 h3.9 M555.32,325.6 h3.9 M555.32,345.7 h3.9 M561.78,323.5 h3.9 M561.78,342.4 h3.9 M568.24,324.4 h3.9 M568.24,342.8 h3.9 M574.71,323.7 h3.9 M574.71,341.6 h3.9 M581.17,324.3 h3.9 M581.17,342.8 h3.9 M587.63,322.6 h3.9 M587.63,341.6 h3.9 M594.1,323.2 h3.9 M594.1,341.9 h3.9 M600.56,323.4 h3.9 M600.56,342.1 h3.9 M607.02,322.6 h3.9 M607.02,341.6 h3.9 M613.48,322.6 h3.9 M613.48,341.6 h3.9 M619.95,322.9 h3.9 M619.95,342.1 h3.9 M626.41,322.6 h3.9 M626.41,341.6 h3.9 M632.87,323.4 h3.9 M632.87,342.4 h3.9 M639.34,322.6 h3.9 M639.34,342.1 h3.9 M645.8,323.4 h3.9 M645.8,342.4 h3.9 M652.26,323.2 h3.9 M652.26,341.9 h3.9" stroke="#e0240a" stroke-width="1.6" fill="none"/>
<path d="M499.1,333 L505.56,348.9 C506.42,348.01 510.3,343.59 512.03,342.2 C513.75,340.81 516.77,339.35 518.49,338.5 C520.21,337.65 523.23,336.43 524.95,335.8 C526.68,335.17 529.69,334.31 531.41,333.8 C533.14,333.29 536.15,331.97 537.88,332 C539.6,332.03 542.62,333.71 544.34,334 C546.06,334.29 549.08,334.04 550.8,334.2 C552.53,334.36 555.54,335.31 557.27,335.2 C558.99,335.09 562.01,333.64 563.73,333.4 C565.45,333.16 568.47,333.43 570.19,333.4 C571.92,333.37 574.93,333.24 576.66,333.2 C578.38,333.16 581.4,333.19 583.12,333.1 C584.84,333.01 587.86,332.61 589.58,332.5 C591.31,332.39 594.32,332.26 596.05,332.3 C597.77,332.34 600.78,332.85 602.51,332.8 C604.23,332.75 607.25,331.97 608.97,331.9 C610.69,331.83 613.71,332.18 615.43,332.3 C617.16,332.42 620.17,332.8 621.9,332.8 C623.62,332.8 626.64,332.3 628.36,332.3 C630.08,332.3 633.1,332.73 634.82,332.8 C636.55,332.87 639.56,332.79 641.29,332.8 C643.01,332.81 646.03,332.89 647.75,332.9 C649.47,332.91 653.35,332.9 654.21,332.9" stroke="#e0240a" stroke-width="2.0" fill="none" stroke-linejoin="round"/>
<text x="173.2" y="18.4" class="ti">Power Equation</text>
<text x="466.6" y="18" class="ti">Power Equation without VR</text>
<text x="231.6" y="217.5" class="ti">Components of the power equation</text>
<text x="126.5" y="5.3" class="lt">a</text>
<text x="430.3" y="8.8" class="lt">b</text>
<text x="49.3" y="236.4" class="lt">c</text>
<text x="276.4" y="238.8" class="lt">d</text>
<text x="506" y="239.6" class="lt">e</text>
<text x="149.8" y="192.2" class="at">Time, hrs</text>
<text x="456.7" y="194" class="at">Time, hrs</text>
<text x="83.5" y="429.6" class="at">Time, hrs</text>
<text x="319.4" y="430.3" class="at">Time, hrs</text>
<text x="541.3" y="429.2" class="at">Time, hrs</text>
<text transform="translate(70.6,140.2) rotate(-90)" class="ay">Mechanical Power, J/min</text>
<text transform="translate(371.6,153.2) rotate(-90)" class="ay">Mechanical Energy, J/breath</text>
<text transform="translate(8.6,330.6) rotate(-90)" class="ay" style="font-size:12.3px">VR, b/min</text>
<text transform="translate(235.2,330.8) rotate(-90)" class="ay">VT, L/min</text>
<text transform="translate(467.5,386) rotate(-90)" class="ay">Ppeak - 0.5 x ΔP, cmH<tspan dy="3.8" font-size="9">2</tspan><tspan dy="-3.8">O</tspan></text>
<path d="M608.8,103.5 H642.6" stroke="#126cf2" stroke-width="3.2"/>
<path d="M608.8,120.5 H642.6" stroke="#e0240a" stroke-width="3.2"/>
<text x="645.6" y="108.1" class="lg">LTV</text>
<text x="646.1" y="124.9" class="lg" style="font-size:14px;letter-spacing:0.2px">APRV</text>
</svg></div>
</body></html>
